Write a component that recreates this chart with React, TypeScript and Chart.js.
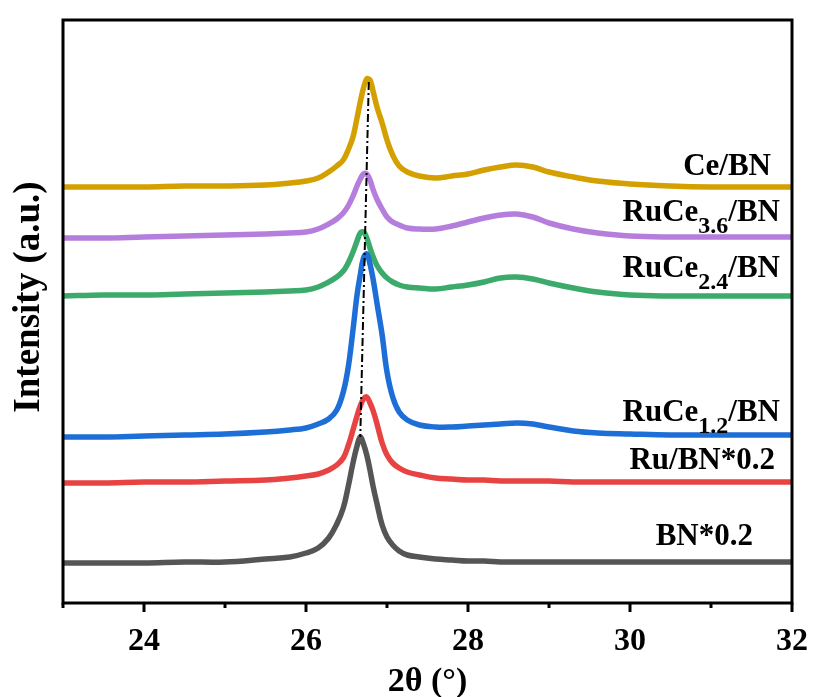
import React, { useEffect, useRef } from "react";
import { Chart, registerables } from "chart.js";

Chart.register(...registerables);

// 2θ positions (degrees) at which the patterns were read
const twoTheta = [23, 23.5, 24, 24.5, 25, 25.5, 25.8, 26.0, 26.15, 26.28, 26.38, 26.46, 26.52, 26.58, 26.63, 26.67, 26.71, 26.75, 26.79, 26.83, 26.88, 26.94, 27.0, 27.07, 27.15, 27.25, 27.4, 27.6, 27.8, 28.0, 28.2, 28.4, 28.6, 28.8, 29.0, 29.3, 29.6, 30.0, 30.5, 31.0, 31.5, 32.0];

// Intensities (a.u., with vertical offsets as in the figure)
const ceBN = [416, 416, 416, 417, 417, 418, 420, 422, 425, 431, 437, 443, 453, 466, 485, 501, 515, 524, 523, 511, 495, 480, 463, 448, 437, 431, 427, 425, 427, 429, 433, 436, 438, 436, 431, 426, 422, 419, 417, 416, 416, 416];
const ruCe36BN = [365, 365, 366, 367, 368, 369, 370, 371, 374, 379, 384, 390, 397, 407, 417, 424, 429, 429, 423, 413, 403, 394, 386, 381, 378, 375, 374, 374, 377, 381, 385, 388, 389, 386, 380, 374, 370, 367, 366, 366, 366, 366];
const ruCe24BN = [307, 308, 308, 309, 310, 311, 312, 313, 316, 321, 326, 332, 340, 351, 362, 370, 371, 365, 355, 346, 337, 330, 325, 321, 318, 316, 315, 314, 316, 318, 321, 325, 326, 324, 320, 315, 311, 308, 307, 307, 307, 307];
const ruCe12BN = [166, 166, 167, 168, 169, 171, 173, 175, 179, 184, 193, 211, 235, 273, 308, 328, 345, 349, 339, 323, 298, 268, 231, 206, 191, 183, 178, 176, 176, 177, 178, 179, 180, 179, 176, 172, 170, 169, 168, 168, 168, 168];
const ruBN02 = [120, 120, 121, 121, 122, 123, 125, 127, 129, 133, 138, 145, 157, 173, 187, 197, 204, 206, 200, 192, 178, 160, 148, 140, 135, 131, 128, 125, 124, 123, 123, 122, 122, 122, 122, 121, 121, 121, 121, 121, 121, 121];
const bn02 = [40, 40, 40, 41, 41, 44, 46, 50, 55, 65, 79, 95, 116, 140, 157, 166, 159, 148, 133, 116, 98, 78, 66, 58, 52, 48, 46, 44, 43, 42, 42, 41, 41, 41, 41, 41, 41, 41, 41, 41, 41, 41];

// guide line through the (002) peak maxima
const guideX = [26.775, 26.67];
const guideY = [521, 166];

const xMajorTicks = [24, 26, 28, 30, 32];
const xMinorTicks = [23, 25, 27, 29, 31];

const seriesNames = ["Ce/BN", "RuCe3.6/BN", "RuCe2.4/BN", "RuCe1.2/BN", "Ru/BN*0.2", "BN*0.2"];
const seriesColors = ["#D3A000", "#B57EDC", "#3BAA6B", "#1E6ED8", "#E84343", "#555555"];
const seriesValues = [ceBN, ruCe36BN, ruCe24BN, ruCe12BN, ruBN02, bn02];

// label pieces: main text, subscript, tail
const labelParts = [
  ["Ce/BN", "", ""],
  ["RuCe", "3.6", "/BN"],
  ["RuCe", "2.4", "/BN"],
  ["RuCe", "1.2", "/BN"],
  ["Ru/BN*0.2", "", ""],
  ["BN*0.2", "", ""],
];
// label placement (right edge px, baseline px)
const labelPlace = [
  [771, 175],
  [780, 221],
  [780, 277],
  [780, 421],
  [775, 469],
  [753, 545],
];

const FONT = "'Liberation Serif', 'Times New Roman', serif";

const decorPlugin = {
  id: "decor",
  afterDatasetsDraw(chart: any) {
    const { ctx } = chart;
    ctx.save();
    ctx.fillStyle = "#000";
    ctx.textBaseline = "alphabetic";
    labelParts.forEach((p, i) => {
      const [right, base] = labelPlace[i];
      const mainFont = `bold 31px ${FONT}`;
      const subFont = `bold 24px ${FONT}`;
      ctx.font = mainFont;
      const w1 = ctx.measureText(p[0]).width;
      const w3 = ctx.measureText(p[2]).width;
      ctx.font = subFont;
      const w2 = p[1] ? ctx.measureText(p[1]).width : 0;
      let x = right - (w1 + w2 + w3);
      ctx.textAlign = "left";
      ctx.font = mainFont;
      ctx.fillText(p[0], x, base);
      x += w1;
      if (p[1]) {
        ctx.font = subFont;
        ctx.fillText(p[1], x, base + 12);
        x += w2;
      }
      if (p[2]) {
        ctx.font = mainFont;
        ctx.fillText(p[2], x, base);
      }
    });
    ctx.restore();
  },
  afterDraw(chart: any) {
    const { ctx, chartArea } = chart;
    const xs = chart.scales.x;
    ctx.save();
    ctx.strokeStyle = "#000";
    ctx.lineWidth = 3;
    ctx.strokeRect(chartArea.left, chartArea.top, chartArea.right - chartArea.left, chartArea.bottom - chartArea.top);
    const drawTick = (v: number, len: number) => {
      const px = Math.round(xs.getPixelForValue(v));
      ctx.beginPath();
      ctx.moveTo(px, chartArea.bottom);
      ctx.lineTo(px, chartArea.bottom + len);
      ctx.stroke();
    };
    xMajorTicks.forEach((v) => drawTick(v, 9));
    xMinorTicks.forEach((v) => drawTick(v, 5));
    ctx.fillStyle = "#000";
    ctx.textAlign = "center";
    ctx.textBaseline = "middle";
    ctx.font = `bold 34px ${FONT}`;
    ctx.fillText("2θ (°)", (chartArea.left + chartArea.right) / 2, 682);
    ctx.translate(29, 297);
    ctx.rotate(-Math.PI / 2);
    ctx.font = `bold 37px ${FONT}`;
    ctx.fillText("Intensity (a.u.)", 0, 0);
    ctx.restore();
  },
};

export default function App() {
  const canvasRef = useRef<HTMLCanvasElement>(null);
  useEffect(() => {
    const datasets: any[] = seriesValues.map((vals, i) => ({
      label: seriesNames[i],
      data: twoTheta.map((x, j) => ({ x, y: vals[j] })),
      borderColor: seriesColors[i],
      backgroundColor: seriesColors[i],
      borderWidth: 5.5,
      pointRadius: 0,
      tension: 0.4,
      borderJoinStyle: "round",
      borderCapStyle: "round",
      order: i === 3 ? 1 : 2,
    }));
    datasets.push({
      label: "guide",
      data: guideX.map((x, j) => ({ x, y: guideY[j] })),
      borderColor: "#000",
      borderWidth: 2,
      borderDash: [8, 3, 2, 3],
      pointRadius: 0,
      order: 0,
    });
    const chart = new Chart(canvasRef.current!, {
      type: "line",
      data: { datasets },
      options: {
        responsive: false,
        animation: false,
        devicePixelRatio: 1,
        layout: { padding: { left: 63, right: 22, top: 20, bottom: 0 } },
        plugins: { legend: { display: false }, tooltip: { enabled: false } },
        scales: {
          x: {
            type: "linear",
            min: 23,
            max: 32,
            afterFit: (s: any) => {
              s.height = 94;
              s.paddingRight = 0;
              s.paddingLeft = 0;
            },
            border: { display: false },
            grid: { display: false, drawTicks: false },
            ticks: {
              stepSize: 1,
              autoSkip: false,
              maxRotation: 0,
              padding: 20,
              color: "#000",
              font: { family: FONT, size: 32, weight: "bold" },
              callback: (v: any) => (xMajorTicks.includes(Number(v)) ? String(v) : ""),
            },
          },
          y: {
            display: false,
            min: 0,
            max: 583,
          },
        },
      },
      plugins: [decorPlugin],
    });
    return () => chart.destroy();
  }, []);
  return (
    <div style={{ position: "absolute", left: 0, top: 0, width: 814, height: 697, background: "#fff" }}>
      <canvas ref={canvasRef} width={814} height={697} style={{ width: 814, height: 697, display: "block" }} />
    </div>
  );
}
